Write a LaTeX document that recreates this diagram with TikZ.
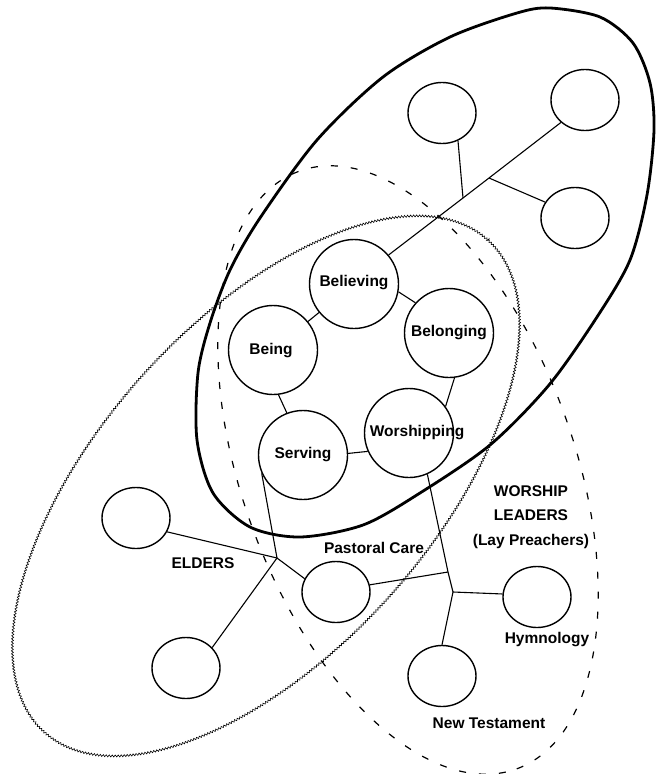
\documentclass[tikz,border=0pt]{standalone}
\usepackage{fontspec}
\setmainfont{Liberation Sans}
\usetikzlibrary{shapes.geometric,decorations.pathmorphing}
\newcommand{\dglbl}{\fontsize{15.5}{18}\selectfont\bfseries}
\begin{document}
\begin{tikzpicture}[x=1pt,y=-1pt,
  smallc/.style={draw, ellipse, line width=1.4pt, minimum width=68pt, minimum height=61pt, inner sep=0pt},
  bigc/.style={draw, circle, line width=1.4pt, minimum size=89pt, inner sep=0pt},
  link/.style={line width=1.1pt},
  lbl/.style={font=\dglbl, inner sep=0pt},
  thickring/.style={line width=2.8pt},
  dashring/.style={line width=1.2pt, dash pattern=on 7pt off 13pt},
  wavering/.style={line width=0.6pt, decorate, decoration={snake, amplitude=1pt, segment length=3pt}}
]
\useasboundingbox (0,0) rectangle (657,774);
\fill[white] (0,0) rectangle (657,774);

% group boundaries
\draw[thickring] plot[smooth cycle] coordinates {
  (550,8) (600,17) (633,43) (650,83) (654,130) (647,195) (630,260) (597,317)
  (549,385) (490,445) (420,493) (363,525) (300,537) (250,527) (213,493)
  (197,440) (198,373) (210,323) (230,270) (260,218) (317,140) (383,77)
  (450,37) (517,13)};
\draw[dashring, rotate around={-70:(408,470)}] (408,470) ellipse [x radius=318pt, y radius=166pt];
\draw[wavering, rotate around={48:(266,487)}] (266,487) ellipse [x radius=332pt, y radius=166pt];

% central circles
\node[bigc] (believing) at (354,284) {};
\node[bigc] (being) at (273,350) {};
\node[bigc] (belonging) at (449,333) {};
\node[bigc] (worshipping) at (409,433) {};
\node[bigc] (serving) at (303,455) {};
\node[lbl] (tbelieving) at (354,283) {Believing};
\node[lbl] (tbeing) at (271,351) {Being};
\node[lbl] (tbelonging) at (449,333) {Belonging};
\node[lbl] (tworshipping) at (417,433) {Worshipping};
\node[lbl] (tserving) at (303,455) {Serving};

% top-right group
\node[smallc] (topm) at (442,113) {};
\node[smallc] (topr) at (585,100) {};
\node[smallc] (rightc) at (575,218) {};

% elders group
\node[smallc] (e1) at (136,518) {};
\node[smallc] (e2) at (186,668) {};
\node[smallc] (pc) at (336,592) {};

% worship leaders group
\node[smallc] (hymn) at (537,597) {};
\node[smallc] (nt) at (442,676) {};

% junctions
\coordinate (jc) at (489,178);
\coordinate (ja) at (463,198);
\coordinate (eh) at (277,558);
\coordinate (wj) at (448,572);
\coordinate (wh) at (453,592);

% connectors
\draw[link] (believing) -- (being);
\draw[link] (believing.-10) -- (belonging.138);
\draw[link] (belonging.-83) -- (worshipping.36);
\draw[link] (being.-83) -- (serving.111);
\draw[link] (serving.2) -- (worshipping.204);

\draw[link] (topr.223) -- (jc) -- (ja) -- (believing.40);
\draw[link] (topm.-60) -- (ja);
\draw[link] (jc) -- (rightc.152);

\draw[link] (e1.-24) -- (eh);
\draw[link] (eh) -- (e2.38);
\draw[link] (eh) -- (pc.157);
\draw[link] (serving.204) -- (eh);

\draw[link] (worshipping.-66) -- (wj) -- (wh);
\draw[link] (pc.12) -- (wj);
\draw[link] (wh) -- (hymn.175);
\draw[link] (wh) -- (nt.90);

% labels
\node[lbl] (elders) at (203,563) {ELDERS};
\node[lbl] (pastoral) at (374,548) {Pastoral Care};
\node[lbl, align=center, font=\fontsize{15.5}{24.5}\selectfont\bfseries] (wl) at (531,517) {WORSHIP\\LEADERS\\(Lay Preachers)};
\node[lbl] (thymn) at (547,640) {Hymnology};
\node[lbl] (tnt) at (489,723) {New Testament};
\end{tikzpicture}
\end{document}
